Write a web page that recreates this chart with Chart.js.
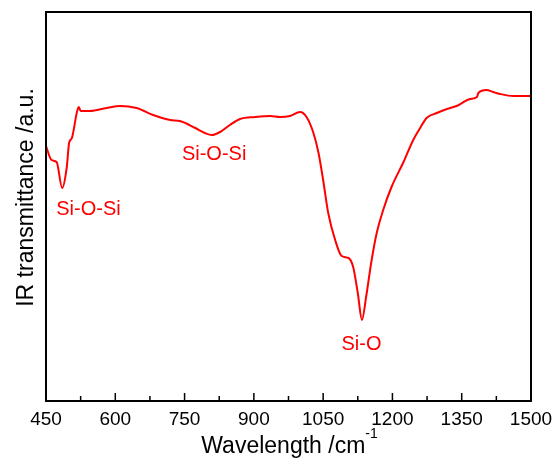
<!DOCTYPE html>
<html>
<head>
<meta charset="utf-8">
<script src="https://cdn.jsdelivr.net/npm/chart.js@4/dist/chart.umd.min.js"></script>
<style>
html,body{margin:0;padding:0;background:#fff;}
#wrap{width:554px;height:460px;position:relative;}
</style>
</head>
<body>
<div id="wrap"><canvas id="c" width="554" height="460"></canvas></div>
<script>
const wavenumbers = [450,462,473,485,495,500,506,517,521,525,545,581,610,646,682,719,740,773,794,809,827,848,870,903,935,957,978,1000,1014,1029,1040,1050,1061,1076,1090,1105,1115,1125,1134,1143,1155,1166,1180,1198,1224,1245,1260,1274,1296,1318,1339,1368,1383,1386,1404,1418,1433,1462,1500];
const transmittance = [255,241,239,213,234,258,263,289,294,290,290,293,295,293,286,281,280,273,268,266,269,276,282,284,285,284,285,289,284,268,248,221,188,161,145,143,134,108,81,104,141,168,191,214,239,261,273,283,288,292,295,302,304,308,311,309,307,305,305];
const xTicks = [450,600,750,900,1050,1200,1350,1500];
const minorTicks = [525,675,825,975,1125,1275,1425];
const peakLabels = ["Si-O-Si","Si-O-Si","Si-O"];
const peakX = [542,814,1133];
const peakY = [186,241,51];
const xTitle = "Wavelength /cm";
const xTitleSup = "-1";
const yTitle = "IR transmittance /a.u.";

const FONT = "'Liberation Sans', Arial, sans-serif";

const framePlugin = {
  id: 'frame',
  afterDraw(chart) {
    const ctx = chart.ctx, a = chart.chartArea, xs = chart.scales.x, ys = chart.scales.y;
    ctx.save();
    ctx.strokeStyle = '#000';
    ctx.lineWidth = 2;
    ctx.strokeRect(a.left, a.top, a.right - a.left, a.bottom - a.top);
    ctx.lineWidth = 1.5;
    ctx.beginPath();
    xTicks.forEach(v => { const p = xs.getPixelForValue(v); ctx.moveTo(p, a.bottom); ctx.lineTo(p, a.bottom - 8); });
    minorTicks.forEach(v => { const p = xs.getPixelForValue(v); ctx.moveTo(p, a.bottom); ctx.lineTo(p, a.bottom - 5); });
    ctx.stroke();
    // peak labels
    ctx.fillStyle = '#ff0000';
    ctx.font = '20px ' + FONT;
    ctx.textAlign = 'center';
    ctx.textBaseline = 'alphabetic';
    peakLabels.forEach((t, i) => ctx.fillText(t, xs.getPixelForValue(peakX[i]), ys.getPixelForValue(peakY[i])));
    // x title with superscript
    ctx.fillStyle = '#000';
    ctx.textAlign = 'left';
    ctx.font = '23px ' + FONT;
    const w1 = ctx.measureText(xTitle).width;
    ctx.font = '14px ' + FONT;
    const w2 = ctx.measureText(xTitleSup).width;
    const cx = (a.left + a.right) / 2 + 1;
    const x0 = cx - (w1 + w2) / 2;
    ctx.font = '23px ' + FONT;
    ctx.fillText(xTitle, x0, 453);
    ctx.font = '14px ' + FONT;
    ctx.fillText(xTitleSup, x0 + w1, 438);
    // y title
    ctx.font = '23px ' + FONT;
    ctx.textAlign = 'center';
    ctx.translate(33, (a.top + a.bottom) / 2 - 9);
    ctx.rotate(-Math.PI / 2);
    ctx.fillText(yTitle, 0, 0);
    ctx.restore();
  }
};

new Chart(document.getElementById('c'), {
  type: 'line',
  data: {
    datasets: [{
      data: wavenumbers.map((w, i) => ({x: w, y: transmittance[i]})),
      borderColor: '#ff0000',
      borderWidth: 2,
      pointRadius: 0,
      cubicInterpolationMode: 'monotone',
      fill: false
    }]
  },
  options: {
    responsive: false,
    animation: false,
    devicePixelRatio: 1,
    layout: {padding: {top: 12, right: 23, left: 0, bottom: 0}},
    plugins: {legend: {display: false}, tooltip: {enabled: false}},
    scales: {
      x: {
        type: 'linear', min: 450, max: 1500,
        afterBuildTicks(s) { s.ticks = xTicks.map(v => ({value: v})); },
        afterFit(s) { s.height = 59; s.paddingLeft = 0; s.paddingRight = 0; },
        grid: {display: false, drawTicks: false},
        border: {display: false},
        ticks: {color: '#000', font: {size: 19, family: FONT}, padding: 7, maxRotation: 0, autoSkip: false,
                callback: v => String(v)}
      },
      y: {
        min: 0, max: 389,
        afterFit(s) { s.width = 46; },
        grid: {display: false, drawTicks: false},
        border: {display: false},
        ticks: {display: false}
      }
    }
  },
  plugins: [framePlugin]
});
</script>
</body>
</html>
